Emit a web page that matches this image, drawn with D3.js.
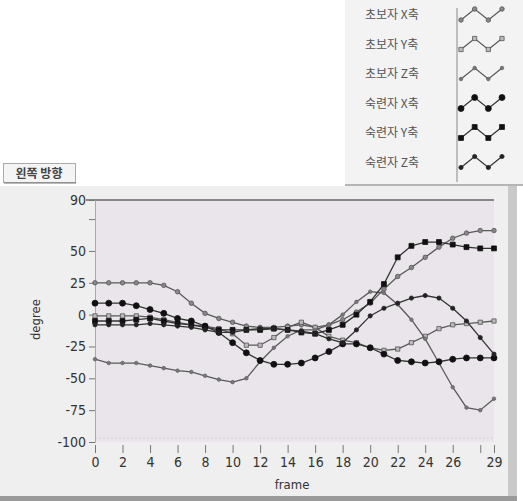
<!DOCTYPE html>
<html>
<head>
<meta charset="utf-8">
<script src="https://cdn.jsdelivr.net/npm/d3@7"></script>
<style>
  body { margin: 0; background: #ffffff; }
  svg { display: block; }
  .tick-label { font-family: "Liberation Sans Narrow", "DejaVu Sans Condensed", sans-serif; font-stretch: condensed; font-size: 14px; fill: #333; }
  .kr { font-family: "Noto Sans CJK KR", sans-serif; }
</style>
</head>
<body>
<div id="chart"></div>
<script>
// frames 0..29
const frames = d3.range(0, 30);

// series values (degree)
const noviceX = [25, 25, 25, 25, 25, 23, 18, 9, 1, -3, -6, -9, -10, -10, -9, -8, -10, -8, -4, 2, 9, 20, 30, 37, 45, 53, 60, 64, 66, 66];
const noviceY = [-1, -1, -1, -1, -2, -4, -6, -8, -9, -11, -15, -24, -24, -18, -10, -6, -10, -17, -20, -22, -26, -28, -27, -22, -17, -11, -8, -7, -6, -5];
const noviceZ = [-35, -38, -38, -38, -40, -42, -44, -45, -48, -51, -53, -50, -37, -26, -17, -12, -12, -8, 0, 10, 18, 17, 8, -4, -19, -38, -57, -73, -75, -66];
const expertX = [9, 9, 9, 7, 4, 1, -3, -5, -9, -14, -22, -30, -36, -39, -39, -38, -34, -29, -23, -23, -26, -31, -36, -37, -38, -37, -35, -34, -34, -34];
const expertY = [-5, -5, -5, -4, -3, -5, -7, -8, -10, -12, -12, -12, -12, -11, -12, -14, -15, -12, -8, 0, 10, 24, 45, 54, 57, 57, 55, 53, 52, 52];
const expertZ = [-8, -8, -8, -8, -7, -8, -9, -10, -12, -14, -14, -12, -11, -11, -12, -13, -15, -19, -22, -12, -1, 5, 9, 13, 15, 13, 5, -5, -18, -31];

const seriesNames = ["초보자 X축", "초보자 Y축", "초보자 Z축", "숙련자 X축", "숙련자 Y축", "숙련자 Z축"];
const seriesValues = [noviceX, noviceY, noviceZ, expertX, expertY, expertZ];

const yTicks = [90, 75, 50, 25, 0, -25, -50, -75, -100];
const yTickLabels = ["90", "", "50", "25", "0", "-25", "-50", "-75", "-100"];
const xTicks = [0, 2, 4, 6, 8, 10, 12, 14, 16, 18, 20, 22, 24, 26, 28, 29];
const xTickLabels = ["0", "2", "4", "6", "8", "10", "12", "14", "16", "18", "20", "22", "24", "26", "", "29"];

const width = 523, height = 501;

// marker styles per series
const markerStyle = [
    { type: d3.symbolCircle, size: 16, fill: "#888", stroke: "#555" },
    { type: d3.symbolSquare, size: 18, fill: "#bbb", stroke: "#555" },
    { type: d3.symbolCircle, size: 10, fill: "#777", stroke: "#666" },
    { type: d3.symbolCircle, size: 28, fill: "#111", stroke: "#111" },
    { type: d3.symbolSquare, size: 24, fill: "#111", stroke: "#111" },
    { type: d3.symbolCircle, size: 14, fill: "#222", stroke: "#222" }
];
const lineColor = ["#5a5a5a", "#5a5a5a", "#5a5a5a", "#333", "#333", "#333"];

const svg = d3.select("#chart").append("svg")
    .attr("width", width)
    .attr("height", height);

// chart panel
svg.append("rect").attr("x", 0).attr("y", 186).attr("width", 508).attr("height", 311).attr("fill", "#efefef");
svg.append("rect").attr("x", 508).attr("y", 186).attr("width", 9).attr("height", 311).attr("fill", "#c9c9c9");
svg.append("rect").attr("x", 0).attr("y", 496).attr("width", 517).attr("height", 5).attr("fill", "#9a9a9a");

// legend panel
svg.append("rect").attr("x", 345).attr("y", 0).attr("width", 178).attr("height", 184).attr("fill", "#f3f3f3");
svg.append("line").attr("x1", 345).attr("x2", 523).attr("y1", 185).attr("y2", 185).attr("stroke", "#b5b5b5").attr("stroke-width", 2);
svg.append("line").attr("x1", 457).attr("x2", 457).attr("y1", 8).attr("y2", 182).attr("stroke", "#888");

// title button
const btn = svg.append("g");
btn.append("rect").attr("x", 3.5).attr("y", 163.5).attr("width", 72).attr("height", 19)
    .attr("fill", "#f4f4f4").attr("stroke", "#aaa");
btn.append("line").attr("x1", 4).attr("x2", 76).attr("y1", 183).attr("y2", 183).attr("stroke", "#777");
btn.append("text").attr("class", "kr").attr("x", 39).attr("y", 177.5)
    .attr("text-anchor", "middle").attr("font-size", 12).attr("font-weight", "bold").attr("fill", "#444")
    .text("왼쪽 방향");

// scales
const x = d3.scaleLinear().domain([0, 29]).range([95, 494]);
const y = d3.scaleLinear().domain([-100, 90]).range([442, 200]);

// plot area
svg.append("rect").attr("x", x(0)).attr("y", y(90)).attr("width", x(29) - x(0)).attr("height", y(-100) - y(90))
    .attr("fill", "#e9e5ea");
svg.append("line").attr("x1", 86).attr("x2", x(29)).attr("y1", y(90)).attr("y2", y(90))
    .attr("stroke", "#666").attr("stroke-width", 1.5);
svg.append("line").attr("x1", x(0)).attr("x2", x(29)).attr("y1", y(-100) - 4).attr("y2", y(-100) - 4)
    .attr("stroke", "#d8d0d4").attr("stroke-dasharray", "2,2");

// y axis
const yAxis = d3.axisLeft(y).tickValues(yTicks).tickSize(6).tickPadding(3)
    .tickFormat((d, i) => yTickLabels[i]);
const gy = svg.append("g").attr("transform", `translate(${x(0)},0)`).call(yAxis);
gy.select(".domain").attr("stroke", "#aaa");
gy.selectAll(".tick line").attr("stroke", "#777");
gy.selectAll(".tick text").attr("class", "tick-label").attr("font-size", null).attr("font-family", null);

// x axis
const xAxis = d3.axisBottom(x).tickValues(xTicks).tickSize(8).tickPadding(4)
    .tickFormat((d, i) => xTickLabels[i]);
const gx = svg.append("g").attr("transform", `translate(0,${y(-100) + 3})`).call(xAxis);
gx.select(".domain").remove();
gx.selectAll(".tick line").attr("stroke", "#777");
gx.selectAll(".tick text").attr("class", "tick-label").attr("font-size", null).attr("font-family", null);

// axis titles
svg.append("text").attr("class", "tick-label")
    .attr("transform", `translate(40,${y(0) + 5}) rotate(-90)`)
    .attr("text-anchor", "middle").style("font-size", "13px")
    .text("degree");
svg.append("text").attr("class", "tick-label")
    .attr("x", 292).attr("y", 489)
    .attr("text-anchor", "middle").style("font-size", "13px")
    .text("frame");

// lines + markers
const line = d3.line().x((d, i) => x(frames[i])).y(d => y(d)).curve(d3.curveLinear);

seriesValues.forEach((vals, s) => {
    const g = svg.append("g");
    g.append("path")
        .datum(vals)
        .attr("d", line)
        .attr("fill", "none")
        .attr("stroke", lineColor[s])
        .attr("stroke-width", 1.3);
    const st = markerStyle[s];
    g.selectAll("path.m")
        .data(vals)
        .enter()
        .append("path")
        .attr("class", "m")
        .attr("d", d3.symbol().type(st.type).size(st.size))
        .attr("transform", (d, i) => `translate(${x(frames[i])},${y(d)})`)
        .attr("fill", st.fill)
        .attr("stroke", st.stroke)
        .attr("stroke-width", 0.8);
});

// legend
const legendZig = [0, 1, 0, 1];
const lx = d3.scaleLinear().domain([0, 3]).range([461, 502]);
seriesNames.forEach((name, s) => {
    const cy = 15 + s * 29.5;
    svg.append("text").attr("class", "kr")
        .attr("x", 365).attr("y", cy + 4)
        .attr("font-size", 12).attr("fill", "#555")
        .text(name);
    const ly = v => cy + 5 - v * 11;
    svg.append("path")
        .datum(legendZig)
        .attr("d", d3.line().x((d, i) => lx(i)).y(d => ly(d)))
        .attr("fill", "none").attr("stroke", lineColor[s]).attr("stroke-width", 1.2);
    const st = markerStyle[s];
    svg.selectAll(null)
        .data(legendZig)
        .enter()
        .append("path")
        .attr("d", d3.symbol().type(st.type).size(st.size))
        .attr("transform", (d, i) => `translate(${lx(i)},${ly(d)})`)
        .attr("fill", st.fill)
        .attr("stroke", st.stroke)
        .attr("stroke-width", 0.8);
});
</script>
</body>
</html>
